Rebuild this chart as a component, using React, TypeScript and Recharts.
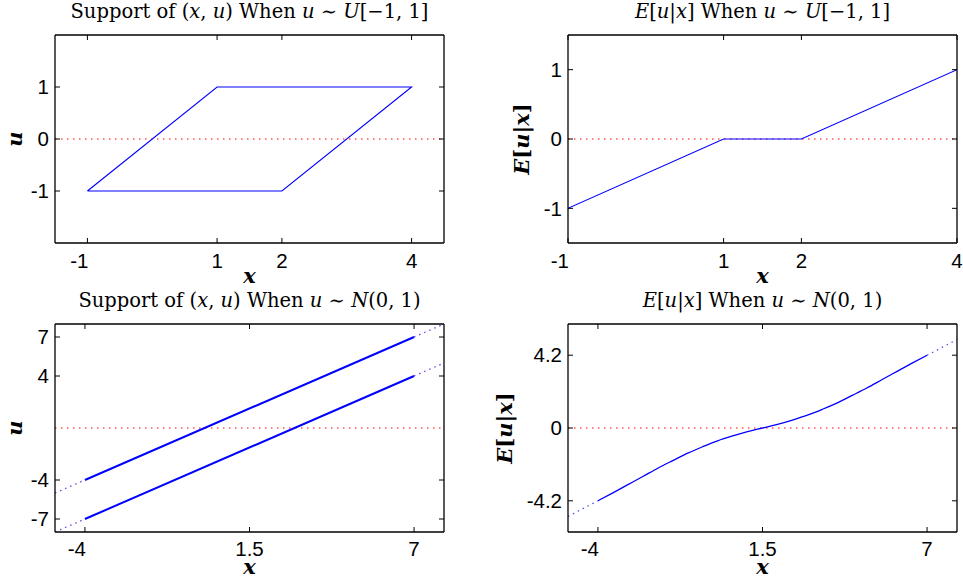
import React from 'react';
import { LineChart, Line, XAxis, YAxis, ReferenceLine } from 'recharts';

// support of (x,u) when u ~ U[-1,1]  (closed parallelogram, drawn in order)
const uSupportX = [-1, 1, 4, 2, -1];
const uSupportU = [-1, 1, 1, -1, -1];

// E[u|x] when u ~ U[-1,1]
const uCondX = [-1, 1, 2, 4];
const uCondE = [-1, 0, 0, 1];

// support of (x,u) when u ~ N(0,1): two boundary lines
const nLineX = [-5, -4, 7, 8];
const nUpperU = [-5, -4, 7, 8];
const nLowerU = [-8, -7, 4, 5];

// E[u|x] when u ~ N(0,1)
const nCondX = [-5, -4.5, -4, -3.5, -3, -2.5, -2, -1.5, -1, -0.5, 0, 0.5, 1, 1.5, 2, 2.5, 3, 3.5, 4, 4.5, 5, 5.5, 6, 6.5, 7, 7.5, 8];
const nCondE = [-5.1, -4.65, -4.2, -3.74, -3.27, -2.8, -2.32, -1.88, -1.45, -1.08, -0.74, -0.46, -0.21, 0, 0.21, 0.46, 0.74, 1.08, 1.45, 1.88, 2.32, 2.8, 3.27, 3.74, 4.2, 4.65, 5.1];

// solid part of the N(0,1) panels, dotted outside
const nSolidFrom = -4;
const nSolidTo = 7;

const uXTicks = [-1, 1, 2, 4];
const uYTicks = [-1, 0, 1];
const nXTicks = [-4, 1.5, 7];
const nSupportTicks = [-7, -4, 4, 7];
const nCondTicks = [-4.2, 0, 4.2];

const toPoints = (xs: number[], ys: number[]) => xs.map((x, i) => ({ x, y: ys[i] }));
const solidPart = (pts: { x: number; y: number }[]) => pts.filter((p) => p.x >= nSolidFrom && p.x <= nSolidTo);
const leftTail = (pts: { x: number; y: number }[]) => pts.filter((p) => p.x <= nSolidFrom);
const rightTail = (pts: { x: number; y: number }[]) => pts.filter((p) => p.x >= nSolidTo);

const SANS = "'Liberation Sans', Arial, Helvetica, sans-serif";
const SERIF = "'DejaVu Serif', 'Liberation Serif', serif";
const BLUE = '#0000ff';

const XTick = (props: any) => {
  const { x, y, payload } = props;
  const v = payload.value;
  return (
    <text x={v < 0 ? x + 1 : x} y={y} dy="0.71em" textAnchor={v < 0 ? 'end' : 'middle'} fontFamily={SANS} fontSize={20.5} fill="#000">
      {String(v)}
    </text>
  );
};

const YTick = (props: any) => {
  const { x, y, payload } = props;
  return (
    <text x={x} y={y} dy="0.355em" textAnchor="end" fontFamily={SANS} fontSize={20.5} fill="#000">
      {String(payload.value)}
    </text>
  );
};

const NoTick = () => <g />;

// box axes, MATLAB style: ticks pointing in on all four sides
const frame = (xDomain: number[], yDomain: number[], xTicks: number[], yTicks: number[], yWidth: number, xHeight: number, xMargin: number) => [
  <XAxis key="xb" dataKey="x" type="number" domain={xDomain} ticks={xTicks} interval={0} allowDataOverflow height={xHeight}
    tickSize={-5} tickMargin={xMargin} tick={<XTick />} stroke="#000" axisLine={{ stroke: '#000', strokeWidth: 1.3 }} tickLine={{ stroke: '#000' }} />,
  <XAxis key="xt" xAxisId="top" orientation="top" dataKey="x" type="number" domain={xDomain} ticks={xTicks} interval={0} allowDataOverflow height={1}
    tickSize={-5} tickMargin={0} tick={<NoTick />} stroke="#000" axisLine={{ stroke: '#000', strokeWidth: 1.3 }} tickLine={{ stroke: '#000' }} />,
  <YAxis key="yl" type="number" domain={yDomain} ticks={yTicks} interval={0} allowDataOverflow width={yWidth}
    tickSize={-5} tickMargin={11} tick={<YTick />} stroke="#000" axisLine={{ stroke: '#000', strokeWidth: 1.3 }} tickLine={{ stroke: '#000' }} />,
  <YAxis key="yr" yAxisId="right" orientation="right" type="number" domain={yDomain} ticks={yTicks} interval={0} allowDataOverflow width={1}
    tickSize={-5} tickMargin={0} tick={<NoTick />} stroke="#000" axisLine={{ stroke: '#000', strokeWidth: 1.3 }} tickLine={{ stroke: '#000' }} />,
  <ReferenceLine key="zero" y={0} stroke="#ff0000" strokeWidth={1.2} strokeDasharray="1.5 4.5" />,
];

const lineProps = { dataKey: 'y', dot: false, activeDot: false, isAnimationActive: false } as const;

const Title = ({ cx, y, children }: { cx: number; y: number; children: React.ReactNode }) => (
  <text x={cx} y={y} textAnchor="middle" fontFamily={SERIF} fontSize={19.5} fill="#000">{children}</text>
);

const I = ({ children, b }: { children: React.ReactNode; b?: boolean }) => (
  <tspan fontStyle="italic" fontWeight={b ? 'bold' : 'normal'}>{children}</tspan>
);

const EuxLabel = () => (
  <>
    <I b>E</I><tspan fontWeight="bold">[</tspan><I b>u</I><tspan fontWeight="bold">|</tspan><I b>x</I><tspan fontWeight="bold">]</tspan>
  </>
);

export default function App() {
  const supportU = toPoints(uSupportX, uSupportU);
  const condU = toPoints(uCondX, uCondE);
  const upper = toPoints(nLineX, nUpperU);
  const lower = toPoints(nLineX, nLowerU);
  const condN = toPoints(nCondX, nCondE);

  return (
    <div style={{ position: 'absolute', left: 0, top: 0, width: 963, height: 580, background: '#fff' }}>
      <div style={{ position: 'absolute', left: 0, top: 0 }}>
        <LineChart width={480} height={290} margin={{ top: 34, right: 35, bottom: 0, left: 0 }}>
          {frame([-1.5, 4.5], [-2, 2], uXTicks, uYTicks, 55, 47, 15)}
          <Line {...lineProps} data={supportU} type="linear" stroke={BLUE} strokeWidth={1.1} />
        </LineChart>
      </div>

      <div style={{ position: 'absolute', left: 480, top: 0 }}>
        <LineChart width={483} height={290} margin={{ top: 34, right: 5, bottom: 0, left: 0 }}>
          {frame([-1, 4], [-1.5, 1.5], uXTicks, uYTicks, 88, 47, 15)}
          <Line {...lineProps} data={condU} type="linear" stroke={BLUE} strokeWidth={1.1} />
        </LineChart>
      </div>

      <div style={{ position: 'absolute', left: 0, top: 290 }}>
        <LineChart width={480} height={290} margin={{ top: 33, right: 35, bottom: 0, left: 0 }}>
          {frame([-5, 8], [-8, 8], nXTicks, nSupportTicks, 55, 48, 14)}
          <Line {...lineProps} data={solidPart(upper)} type="linear" stroke={BLUE} strokeWidth={2} />
          <Line {...lineProps} data={solidPart(lower)} type="linear" stroke={BLUE} strokeWidth={2} />
          <Line {...lineProps} data={leftTail(upper)} type="linear" stroke="#7a3ee0" strokeWidth={1.3} strokeDasharray="1.5 4" />
          <Line {...lineProps} data={rightTail(upper)} type="linear" stroke="#7a3ee0" strokeWidth={1.3} strokeDasharray="1.5 4" />
          <Line {...lineProps} data={leftTail(lower)} type="linear" stroke="#7a3ee0" strokeWidth={1.3} strokeDasharray="1.5 4" />
          <Line {...lineProps} data={rightTail(lower)} type="linear" stroke="#7a3ee0" strokeWidth={1.3} strokeDasharray="1.5 4" />
        </LineChart>
      </div>

      <div style={{ position: 'absolute', left: 480, top: 290 }}>
        <LineChart width={483} height={290} margin={{ top: 33, right: 5, bottom: 0, left: 0 }}>
          {frame([-5, 8], [-6, 6], nXTicks, nCondTicks, 88, 48, 14)}
          <Line {...lineProps} data={solidPart(condN)} type="monotone" stroke={BLUE} strokeWidth={1.3} />
          <Line {...lineProps} data={leftTail(condN)} type="monotone" stroke="#4a4aff" strokeWidth={1.2} strokeDasharray="1.5 4" />
          <Line {...lineProps} data={rightTail(condN)} type="monotone" stroke="#4a4aff" strokeWidth={1.2} strokeDasharray="1.5 4" />
        </LineChart>
      </div>

      {/* titles and axis labels */}
      <svg width={963} height={580} style={{ position: 'absolute', left: 0, top: 0, pointerEvents: 'none' }}>
        <Title cx={249.5} y={18}>
          Support of (<I>x</I>, <I>u</I>) When <I>u</I> ∼ <I>U</I>[−1, 1]
        </Title>
        <Title cx={762.5} y={18}>
          <I>E</I>[<I>u</I>|<I>x</I>] When <I>u</I> ∼ <I>U</I>[−1, 1]
        </Title>
        <Title cx={249.5} y={307}>
          Support of (<I>x</I>, <I>u</I>) When <I>u</I> ∼ <I>N</I>(0, 1)
        </Title>
        <Title cx={762.5} y={307}>
          <I>E</I>[<I>u</I>|<I>x</I>] When <I>u</I> ∼ <I>N</I>(0, 1)
        </Title>

        <g fontFamily={SERIF} fontSize={21} fill="#000">
          <text x={249.5} y={283} textAnchor="middle"><I b>x</I></text>
          <text x={762.5} y={283} textAnchor="middle"><I b>x</I></text>
          <text x={249.5} y={574} textAnchor="middle"><I b>x</I></text>
          <text x={762.5} y={574} textAnchor="middle"><I b>x</I></text>
          <text transform="translate(21.5,139) rotate(-90)" textAnchor="middle"><I b>u</I></text>
          <text transform="translate(21.5,428) rotate(-90)" textAnchor="middle"><I b>u</I></text>
          <text transform="translate(529,139) rotate(-90)" textAnchor="middle"><EuxLabel /></text>
          <text transform="translate(512,428) rotate(-90)" textAnchor="middle"><EuxLabel /></text>
        </g>
      </svg>
    </div>
  );
}
